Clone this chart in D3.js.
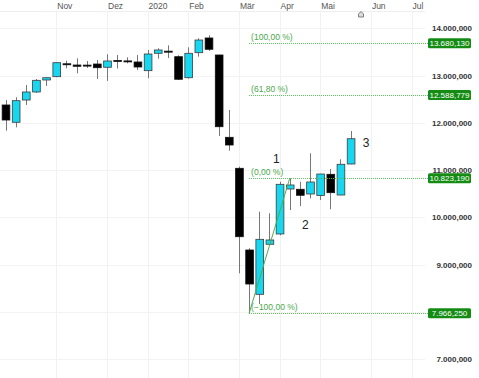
<!DOCTYPE html>
<html>
<head>
<meta charset="utf-8">
<script src="https://cdn.jsdelivr.net/npm/d3@7"></script>
<style>
  body { margin: 0; background: #fff; }
  svg { display: block; font-family: "Liberation Sans", Arial, sans-serif; }
</style>
</head>
<body>
<div id="vizholder"></div>
<script>
// weekly candles, index 0..34
var open  = [12376,12010,12481,12651,12905,12975,13248,13222,13220,13243,13174,13318,13309,13286,13102,13470,13515,13398,12953,13483,13794,13434,11692,11036,9307,8369,9428,9646,10598,10592,10492,10460,10909,10471,11127];
var high  = [12482,12539,12799,12926,12962,13279,13313,13364,13307,13328,13449,13434,13385,13434,13540,13576,13639,13428,13597,13787,13851,13440,12270,11070,9343,10118,10084,10752,10823.19,10752,11353,10920,11021,11227,11825];
var low   = [11832,11904,12376,12630,12778,12965,13152,13047,13159,12926,12884,13148,13258,13116,12941,13356,13370,12905,12932,13398,13519,11720,11409,8814,7966.25,8164,9413,9618,10153,10238,10397,10365,10168,10465,11120];
var close = [12058,12467,12651,12898,12953,13271,13240,13195,13212,13165,13307,13310,13304,13180,13455,13540,13508,12920,13470,13751,13555,11916,11529,9588,8587,9533,9519,10697,10683,10465,10746,10915,10520,11121,11662];

var monthNames = ["Nov","Dez","2020","Feb","Mär","Apr","Mai","Jun","Jul"];
var monthIndex = [5,10,14,18,23,27,31,36,40];

var yTicks = [7000,9000,10000,11000,12000,13000,14000];
var yGrid  = [7000,8000,9000,10000,11000,12000,13000,14000];

// fibonacci drawing
var fibPct    = [100, 61.8, 0, -100];
var fibLevels = [13680.13, 12588.779, 10823.19, 7966.25];
var fibFrom = 24, fibTo = 28;   // low candle -> 0% candle

var waveLabels = ["1","2","3"];
var waveIndex  = [26.35, 29.2, 35.2];
var waveValues = [11150, 9751, 11493];

var W = 479, H = 378;
var de = d3.formatLocale({decimal: ",", thousands: ".", grouping: [3], currency: ["", ""]});
var fmtPrice = de.format(",.3f");
var fmtPct = de.format(".2f");

var svg = d3.select("#vizholder").append("svg")
  .attr("width", W).attr("height", H);

var x = d3.scaleLinear().domain([0, 40]).range([5.5, 411.5]);
var y = d3.scaleLinear().domain([7000, 14000]).range([359, 28.25]);
var plotRight = 425;
var bw = 7.7;

// grid
svg.append("line").attr("x1", 0).attr("x2", plotRight).attr("y1", 11.5).attr("y2", 11.5)
  .attr("stroke", "#eeeeee");
svg.selectAll(".hgrid").data(yGrid).enter().append("line")
  .attr("class", "hgrid")
  .attr("x1", 0).attr("x2", plotRight)
  .attr("y1", function(d){ return Math.round(y(d)) + 0.5; })
  .attr("y2", function(d){ return Math.round(y(d)) + 0.5; })
  .attr("stroke", "#f3f3f3");
svg.selectAll(".vgrid").data(monthIndex).enter().append("line")
  .attr("class", "vgrid")
  .attr("x1", function(d){ return Math.round(x(d)) + 0.5; })
  .attr("x2", function(d){ return Math.round(x(d)) + 0.5; })
  .attr("y1", 11.5).attr("y2", H)
  .attr("stroke", "#f1f1f1");

// month labels
svg.selectAll(".month").data(monthNames).enter().append("text")
  .attr("class", "month")
  .attr("x", function(d, i){ return x(monthIndex[i]) + 1; })
  .attr("y", 8.5)
  .style("font-size", "8.5px")
  .style("fill", "#555")
  .text(function(d){ return d; });

// home marker
svg.append("path")
  .attr("d", "M358.5,17 L358.5,13.8 L361,11.6 L363.5,13.8 L363.5,17 Z")
  .attr("fill", "#ddd").attr("stroke", "#666").attr("stroke-width", 0.8);

// y axis
var yAxis = d3.axisRight(y).tickValues(yTicks).tickSize(0).tickFormat(fmtPrice);
var ax = svg.append("g").attr("transform", "translate(472,0)").call(yAxis);
ax.select(".domain").remove();
ax.selectAll("text")
  .attr("x", 0).attr("text-anchor", "end")
  .style("font-size", "8px").style("font-weight", "bold")
  .style("font-family", "'Liberation Sans', Arial, sans-serif")
  .style("fill", "#333");

// candles
var idx = d3.range(open.length);
var candle = svg.selectAll(".candle").data(idx).enter().append("g").attr("class", "candle");
candle.append("line")
  .attr("x1", function(i){ return Math.round(x(i)) + 0.5; })
  .attr("x2", function(i){ return Math.round(x(i)) + 0.5; })
  .attr("y1", function(i){ return y(high[i]); })
  .attr("y2", function(i){ return y(low[i]); })
  .attr("stroke", "#777").attr("stroke-width", 1);
candle.append("rect")
  .attr("x", function(i){ return x(i) - bw / 2 + 0.5; })
  .attr("width", bw)
  .attr("y", function(i){ return y(Math.max(open[i], close[i])); })
  .attr("height", function(i){ return Math.max(1, Math.abs(y(open[i]) - y(close[i]))); })
  .attr("fill", function(i){ return close[i] >= open[i] ? "#17d6f0" : "#000"; })
  .attr("stroke", function(i){ return close[i] >= open[i] ? "#3c3c3c" : "#111"; })
  .attr("stroke-width", 0.8);

// fibonacci levels
var fx0 = x(fibFrom);
svg.selectAll(".fib").data(fibLevels).enter().append("line")
  .attr("class", "fib")
  .attr("x1", fx0).attr("x2", 428)
  .attr("y1", function(d){ return Math.round(y(d)) + 0.5; })
  .attr("y2", function(d){ return Math.round(y(d)) + 0.5; })
  .attr("stroke", "#5cb85c").attr("stroke-width", 1)
  .attr("stroke-dasharray", "1,1");
svg.append("line")
  .attr("x1", fx0).attr("y1", y(fibLevels[3]))
  .attr("x2", x(fibTo)).attr("y2", y(fibLevels[2]))
  .attr("stroke", "#4caf50").attr("stroke-width", 1);
svg.selectAll(".fibpct").data(fibPct).enter().append("text")
  .attr("class", "fibpct")
  .attr("x", fx0 + 2)
  .attr("y", function(d, i){ return y(fibLevels[i]) - 3; })
  .style("font-size", "8.5px")
  .style("fill", "#4aa84a")
  .text(function(d){ return "(" + fmtPct(d) + " %)"; });

var tag = svg.selectAll(".tag").data(fibLevels).enter().append("g").attr("class", "tag")
  .attr("transform", function(d){ return "translate(428," + (y(d) - 5) + ")"; });
tag.append("rect").attr("width", 43).attr("height", 10).attr("rx", 1.5)
  .attr("fill", "#148c14");
tag.append("text").attr("x", 21.5).attr("y", 8).attr("text-anchor", "middle")
  .style("font-size", "8px").style("fill", "#fff")
  .text(function(d){ return fmtPrice(d); });

// wave counts
svg.selectAll(".wave").data(waveLabels).enter().append("text")
  .attr("class", "wave")
  .attr("x", function(d, i){ return x(waveIndex[i]); })
  .attr("y", function(d, i){ return y(waveValues[i]); })
  .style("font-size", "12px")
  .style("fill", "#222")
  .text(function(d){ return d; });
</script>
</body>
</html>
